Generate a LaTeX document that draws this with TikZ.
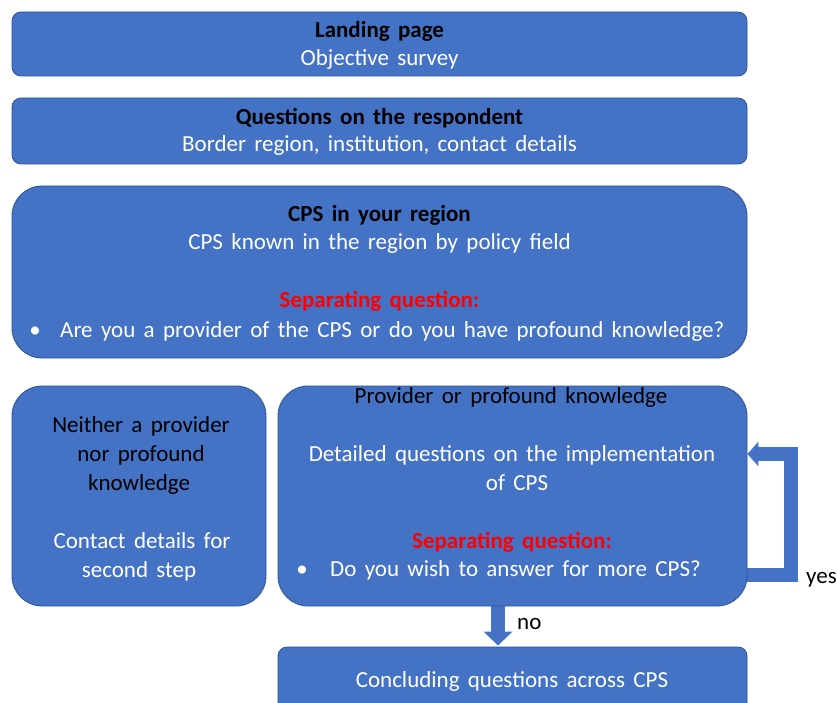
\documentclass[tikz,border=0pt]{standalone}
\usepackage{fontspec}
\setmainfont{Carlito}[WordSpace=1.6]
\usetikzlibrary{arrows.meta}
\pgfdeclarelayer{background}
\pgfsetlayers{background,main}
\definecolor{boxblue}{HTML}{4472C4}
\definecolor{boxedge}{HTML}{2F528F}
\definecolor{sepred}{HTML}{FF0000}

\begin{document}
\begin{tikzpicture}[x=1pt,y=-1pt,
  stage/.style={draw=boxedge, line width=0.8pt, fill=boxblue, rounded corners=#1, inner sep=0pt},
  stage/.default=9pt,
  txt/.style={inner sep=0pt, anchor=base, font=\fontsize{23}{28}\selectfont},
  head/.style={txt, font=\fontsize{23}{28}\selectfont\bfseries, text=black},
  sub/.style={txt, text=white},
  dark/.style={txt, text=black},
  sep/.style={txt, font=\fontsize{23}{28}\selectfont\bfseries, text=sepred},
  blockarrow/.style={draw=boxblue, line width=14pt, line join=miter},
  lbl/.style={inner sep=0pt, anchor=base, font=\fontsize{23}{28}\selectfont, text=black}
]
\useasboundingbox (0,0) rectangle (837,703);

% stage boxes
\node[stage, minimum width=735pt, minimum height=64pt] (landing) at (379.5,44) {};
\node[stage, minimum width=735pt, minimum height=66pt] (resp) at (379.5,131) {};
\node[stage=30pt, minimum width=735pt, minimum height=172pt] (region) at (379.5,272) {};
\node[stage=30pt, minimum width=254pt, minimum height=220pt] (neither) at (139,496) {};
\node[stage=30pt, minimum width=469pt, minimum height=220pt] (provider) at (512.5,496) {};
\node[stage, minimum width=469pt, minimum height=66pt] (conclude) at (512.5,680) {};

% texts of the first three stages
\node[head] (landingA) at (379.5,37.5) {Landing page};
\node[sub]  (landingB) at (379.5,65.5) {Objective survey};
\node[head] (respA) at (379.5,124.5) {Questions on the respondent};
\node[sub]  (respB) at (379.5,151.5) {Border region, institution, contact details};
\node[head] (regionA) at (379.5,221.5) {CPS in your region};
\node[sub]  (regionB) at (379.5,249.5) {CPS known in the region by policy field};
\node[sep]  (regionC) at (379.5,307.5) {Separating question:};
\node[sub]  (regionBul) at (35,337.5) {•};
\node[sub, anchor=base west] (regionD) at (60,337.5) {Are you a provider of the CPS or do you have profound knowledge?};

% left branch
\node[dark] (neitherA) at (141,432.5) {Neither a provider};
\node[dark] (neitherB) at (141,461) {nor profound};
\node[dark] (neitherC) at (139,490.5) {knowledge};
\node[sub]  (neitherD) at (142,548) {Contact details for};
\node[sub]  (neitherE) at (139,577.5) {second step};

% right branch
\node[dark] (providerA) at (511,403.5) {Provider or profound knowledge};
\node[sub]  (providerB) at (512,461.5) {Detailed questions on the implementation};
\node[sub]  (providerC) at (517,490.5) {of CPS};
\node[sep]  (providerD) at (512,548.5) {Separating question:};
\node[sub]  (providerBul) at (302,576.5) {•};
\node[sub, anchor=base west] (providerE) at (330,576.5) {Do you wish to answer for more CPS?};

% last stage
\node[sub] (concludeA) at (512,687.5) {Concluding questions across CPS};

% answer labels
\node[lbl, anchor=base west] (yes) at (806,583.5) {yes};
\node[lbl, anchor=base west] (no) at (517,629.5) {no};

% block arrows, kept behind the boxes
\coordinate (noX) at (498,0);
\begin{pgfonlayer}{background}
  \fill[white] (0,0) rectangle (837,703);
  \draw[blockarrow, -{Triangle[width=28pt,length=14pt]}]
    (provider.south -| noX) -- ([yshift=1pt]conclude.north -| noX);
  \draw[blockarrow, -{Triangle[width=24pt,length=11pt]}]
    ([xshift=-4pt,yshift=-79pt]provider.east) -- ++(47.5,0)
    |- ([yshift=42pt]provider.east);
\end{pgfonlayer}
\end{tikzpicture}
\end{document}
